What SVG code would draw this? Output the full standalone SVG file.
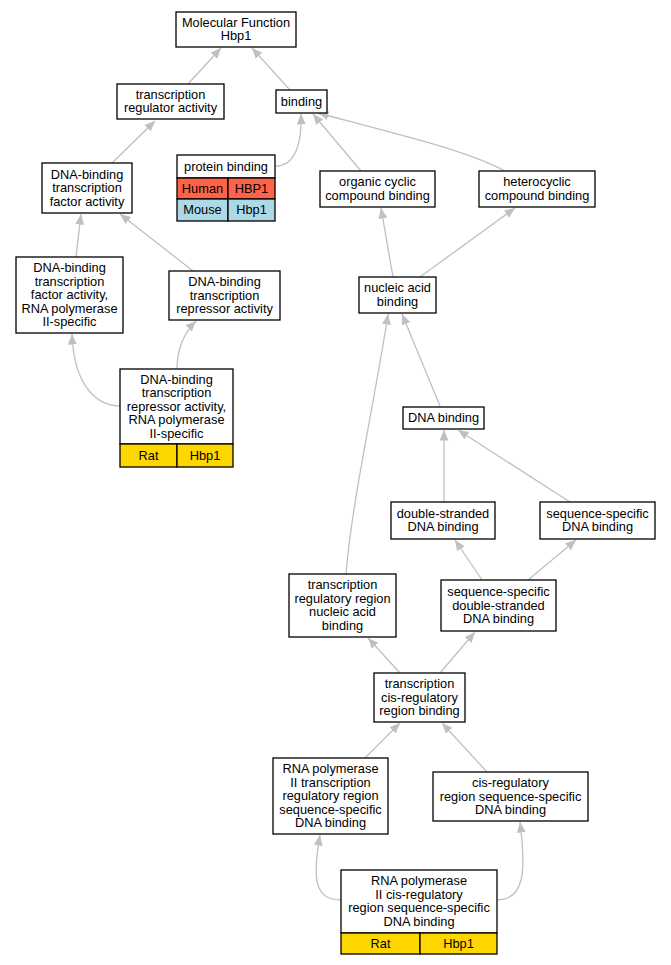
<svg xmlns="http://www.w3.org/2000/svg" width="671" height="965" viewBox="0 0 671 965">
<style>
text{font-family:"Liberation Sans",Arial,sans-serif;font-size:12.8px;text-anchor:middle;fill:#000}
.n{fill:#fff;stroke:#000;stroke-width:1.3}
.h{fill:#ff6347;stroke:#000;stroke-width:1.3}
.m{fill:#add8e6;stroke:#000;stroke-width:1.3}
.r{fill:#ffd700;stroke:#000;stroke-width:1.3}
.e{fill:none;stroke:#c0c0c0;stroke-width:1.3}
</style>
<defs>
<marker id="a" markerUnits="userSpaceOnUse" markerWidth="12" markerHeight="10" refX="10.5" refY="4.5" orient="auto">
<path d="M0,0 L10.5,4.5 L0,9 z" fill="#c0c0c0"/>
</marker>
</defs>
<rect width="671" height="965" fill="#fff"/>
<g id="edges">
<path class="e" marker-end="url(#a)" d="M188,84 L221,48"/>
<path class="e" marker-end="url(#a)" d="M290,90 L252,48"/>
<path class="e" marker-end="url(#a)" d="M112,163 L155,121"/>
<path class="e" marker-end="url(#a)" d="M276,166 C292,166 302,150 301,114"/>
<path class="e" marker-end="url(#a)" d="M361,171 L313,114"/>
<path class="e" marker-end="url(#a)" d="M505,171 C470,152 420,140 318,113"/>
<path class="e" marker-end="url(#a)" d="M76,257 L81,214"/>
<path class="e" marker-end="url(#a)" d="M193,271 L120,214"/>
<path class="e" marker-end="url(#a)" d="M120,406 C100,406 74,390 72,334"/>
<path class="e" marker-end="url(#a)" d="M177,369 C177,350 182,335 196,321"/>
<path class="e" marker-end="url(#a)" d="M393,277 L381,208"/>
<path class="e" marker-end="url(#a)" d="M420,277 L515,208"/>
<path class="e" marker-end="url(#a)" d="M440,406 L402,314"/>
<path class="e" marker-end="url(#a)" d="M346,574 C352,500 375,400 388,314"/>
<path class="e" marker-end="url(#a)" d="M444,502 L444,430"/>
<path class="e" marker-end="url(#a)" d="M570,502 L458,430"/>
<path class="e" marker-end="url(#a)" d="M482,580 L455,540"/>
<path class="e" marker-end="url(#a)" d="M528,580 L576,540"/>
<path class="e" marker-end="url(#a)" d="M400,673 L368,638"/>
<path class="e" marker-end="url(#a)" d="M440,673 L475,632"/>
<path class="e" marker-end="url(#a)" d="M365,758 L400,723"/>
<path class="e" marker-end="url(#a)" d="M487,772 L442,723"/>
<path class="e" marker-end="url(#a)" d="M341,900 C315,900 312,880 320,835"/>
<path class="e" marker-end="url(#a)" d="M497,900 C525,900 526,870 520,822"/>
</g>
<g id="mf"><rect class="n" x="176" y="12" width="120" height="35"/><text x="236" y="26.8">Molecular Function</text><text x="236" y="40.3">Hbp1</text></g>
<g id="tra"><rect class="n" x="117" y="84" width="107" height="35"/><text x="170.5" y="98.8">transcription</text><text x="170.5" y="112.3">regulator activity</text></g>
<g id="binding"><rect class="n" x="276" y="90" width="51" height="23"/><text x="301.5" y="105.6">binding</text></g>
<g id="protein"><rect class="n" x="177" y="155" width="98" height="23"/><text x="226" y="170.6">protein binding</text>
<rect class="h" x="177" y="178" width="51" height="21"/><rect class="h" x="228" y="178" width="47" height="21"/>
<rect class="m" x="177" y="199" width="51" height="22"/><rect class="m" x="228" y="199" width="47" height="22"/>
<text x="202.5" y="192.6">Human</text><text x="251.5" y="192.6">HBP1</text><text x="202.5" y="214.1">Mouse</text><text x="251.5" y="214.1">Hbp1</text></g>
<g id="dbtf"><rect class="n" x="42" y="163" width="90" height="50"/><text x="87" y="178.6">DNA-binding</text><text x="87" y="192.1">transcription</text><text x="87" y="205.6">factor activity</text></g>
<g id="occ"><rect class="n" x="320" y="171" width="115" height="36"/><text x="377.5" y="186.3">organic cyclic</text><text x="377.5" y="199.8">compound binding</text></g>
<g id="hcc"><rect class="n" x="479" y="171" width="116" height="36"/><text x="537" y="186.3">heterocyclic</text><text x="537" y="199.8">compound binding</text></g>
<g id="dbtf2"><rect class="n" x="16" y="257" width="107" height="76"/><text x="69.5" y="272.1">DNA-binding</text><text x="69.5" y="285.6">transcription</text><text x="69.5" y="299.1">factor activity,</text><text x="69.5" y="312.6">RNA polymerase</text><text x="69.5" y="326.1">II-specific</text></g>
<g id="rep"><rect class="n" x="169" y="271" width="111" height="49"/><text x="224.5" y="286.1">DNA-binding</text><text x="224.5" y="299.6">transcription</text><text x="224.5" y="313.1">repressor activity</text></g>
<g id="rep2"><rect class="n" x="120" y="369" width="113" height="75"/><text x="176.5" y="383.6">DNA-binding</text><text x="176.5" y="397.1">transcription</text><text x="176.5" y="410.6">repressor activity,</text><text x="176.5" y="424.1">RNA polymerase</text><text x="176.5" y="437.6">II-specific</text>
<rect class="r" x="120" y="444" width="57" height="23"/><rect class="r" x="177" y="444" width="56" height="23"/><text x="148.5" y="459.6">Rat</text><text x="205" y="459.6">Hbp1</text></g>
<g id="nab"><rect class="n" x="359" y="277" width="77" height="36"/><text x="397.5" y="292.3">nucleic acid</text><text x="397.5" y="305.8">binding</text></g>
<g id="dnab"><rect class="n" x="403" y="407" width="81" height="22"/><text x="443.5" y="422.1">DNA binding</text></g>
<g id="dsdna"><rect class="n" x="391" y="502" width="104" height="37"/><text x="443" y="517.8">double-stranded</text><text x="443" y="531.3">DNA binding</text></g>
<g id="ssdna"><rect class="n" x="540" y="502" width="115" height="37"/><text x="597.5" y="517.8">sequence-specific</text><text x="597.5" y="531.3">DNA binding</text></g>
<g id="trnab"><rect class="n" x="289" y="574" width="107" height="63"/><text x="342.5" y="589.3">transcription</text><text x="342.5" y="602.8">regulatory region</text><text x="342.5" y="616.3">nucleic acid</text><text x="342.5" y="629.8">binding</text></g>
<g id="ssds"><rect class="n" x="441" y="580" width="115" height="51"/><text x="498.5" y="596.1">sequence-specific</text><text x="498.5" y="609.6">double-stranded</text><text x="498.5" y="623.1">DNA binding</text></g>
<g id="tcrb"><rect class="n" x="374" y="673" width="91" height="49"/><text x="419.5" y="688.1">transcription</text><text x="419.5" y="701.6">cis-regulatory</text><text x="419.5" y="715.1">region binding</text></g>
<g id="rp2tr"><rect class="n" x="273" y="758" width="115" height="76"/><text x="330.5" y="773.1">RNA polymerase</text><text x="330.5" y="786.6">II transcription</text><text x="330.5" y="800.1">regulatory region</text><text x="330.5" y="813.6">sequence-specific</text><text x="330.5" y="827.1">DNA binding</text></g>
<g id="crss"><rect class="n" x="433" y="772" width="155" height="49"/><text x="510.5" y="787.1">cis-regulatory</text><text x="510.5" y="800.6">region sequence-specific</text><text x="510.5" y="814.1">DNA binding</text></g>
<g id="bottom"><rect class="n" x="341" y="870" width="156" height="63"/><text x="419" y="885.3">RNA polymerase</text><text x="419" y="898.8">II cis-regulatory</text><text x="419" y="912.3">region sequence-specific</text><text x="419" y="925.8">DNA binding</text>
<rect class="r" x="341" y="933" width="79" height="21"/><rect class="r" x="420" y="933" width="77" height="21"/><text x="380.5" y="947.6">Rat</text><text x="458.5" y="947.6">Hbp1</text></g>
</svg>
